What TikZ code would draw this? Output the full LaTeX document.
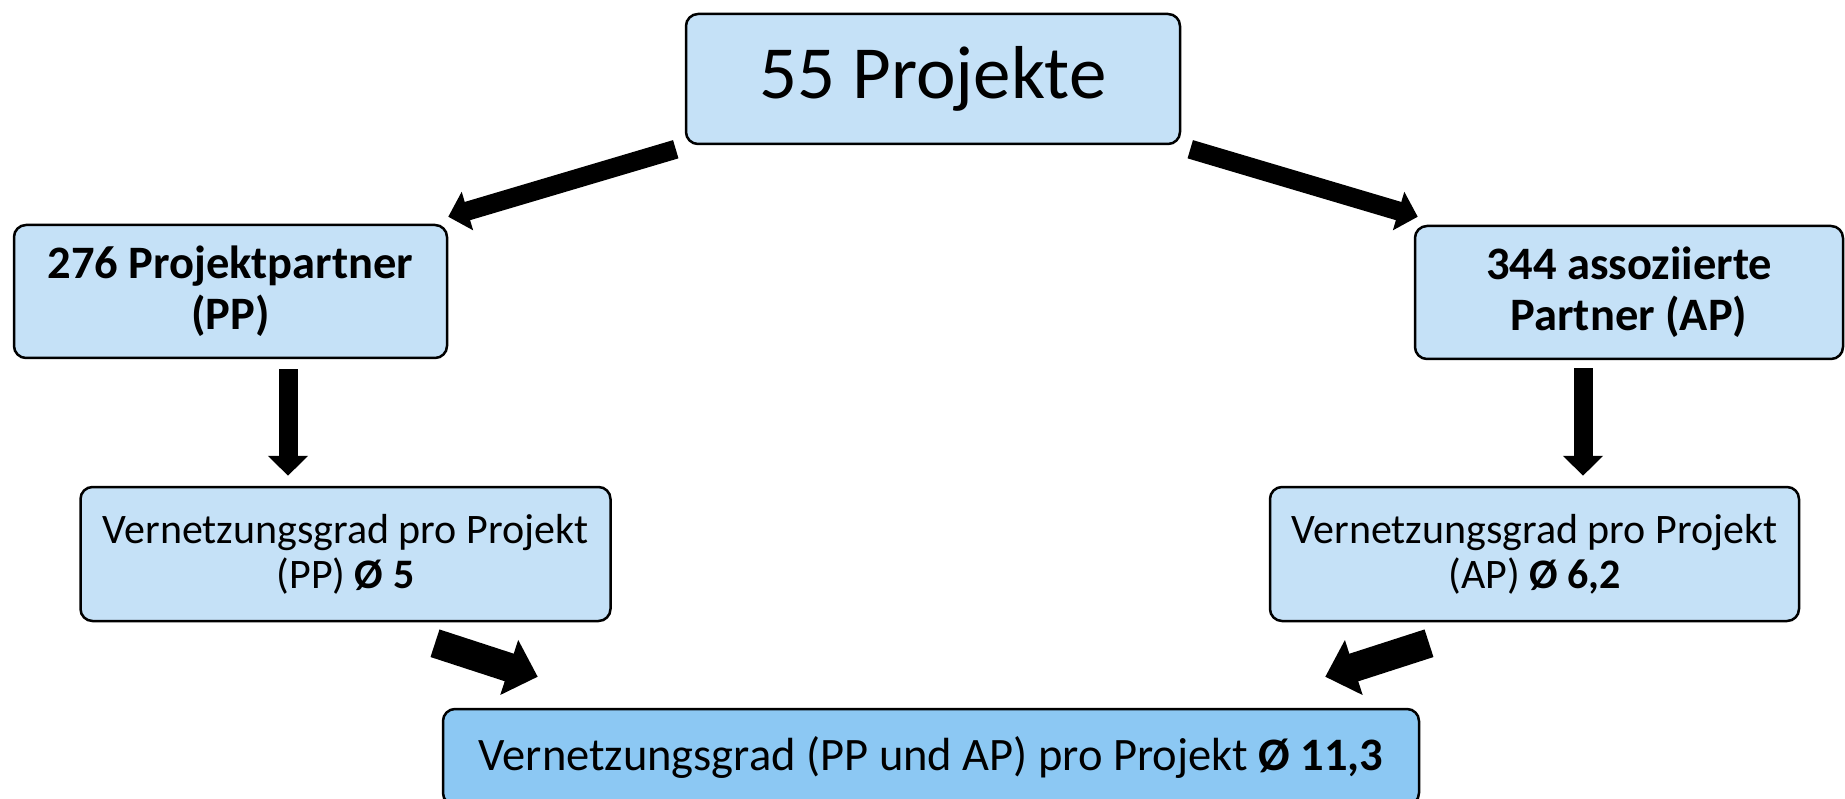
\documentclass[tikz,border=0pt]{standalone}
\usepackage{fontspec}
\setmainfont{Carlito}
\usetikzlibrary{arrows.meta,calc}
\definecolor{boxblue}{HTML}{C5E1F7}
\definecolor{boxdark}{HTML}{8CC8F3}
\tikzset{
  box/.style={draw=black, line width=2.5pt, fill=boxblue, rounded corners=12pt,
    inner sep=0pt, align=center, anchor=center},
  thinarrow/.style={line width=19pt, -{Triangle[length=20pt,width=39pt]}},
  fatarrow/.style={line width=29pt, -{Triangle[length=30pt,width=56pt]}},
  bigtxt/.style={font=\fontsize{75}{82}\selectfont},
  boldtxt/.style={font=\fontsize{46.5}{51}\selectfont\bfseries},
  regtxt/.style={font=\fontsize{42}{45}\selectfont},
}
\begin{document}
\begin{tikzpicture}[x=1pt,y=-1pt]
\useasboundingbox (0,0) rectangle (1845,799);
\node[box, bigtxt, minimum width=494pt, minimum height=130pt] (top) at (933,79) {55 Projekte};
\node[box, boldtxt, minimum width=433pt, minimum height=133pt] (pp) at (230.5,291.5) {276 Projektpartner\\(PP)};
\node[box, boldtxt, minimum width=428pt, minimum height=133pt] (ap) at (1629,292.5) {344 assoziierte\\Partner (AP)};
\node[box, regtxt, minimum width=530pt, minimum height=134pt] (vpp) at (345.5,554) {Vernetzungsgrad pro Projekt\\(PP) \textbf{Ø 5}};
\node[box, regtxt, minimum width=529pt, minimum height=134pt] (vap) at (1534.5,554) {Vernetzungsgrad pro Projekt\\(AP) \textbf{Ø 6,2}};
\node[box, fill=boxdark, font=\fontsize{46.5}{50}\selectfont, minimum width=976pt, minimum height=96pt] (sum) at (931,757) {Vernetzungsgrad (PP und AP) pro Projekt \textbf{Ø 11,3}};
% connectors
\draw[thinarrow] ($(top.south west)+(-9,4)$) -- ($(pp.north east)+(0,-7)$);
\draw[thinarrow] ($(top.south east)+(9,4)$) -- ($(ap.north west)+(4,-8)$);
\draw[thinarrow] ($(pp.south)+(57.5,10)$) -- ($(vpp.north)+(-57.5,-10)$);
\draw[thinarrow] ($(ap.south)+(-46,8)$) -- ($(vap.north)+(48.5,-10)$);
\draw[fatarrow] ($(vpp.south)+(89.5,21)$) -- ($(sum.north west)+(96,-31)$);
\draw[fatarrow] ($(vap.south)+(-105.5,21)$) -- ($(sum.north east)+(-95,-31)$);
\end{tikzpicture}
\end{document}
